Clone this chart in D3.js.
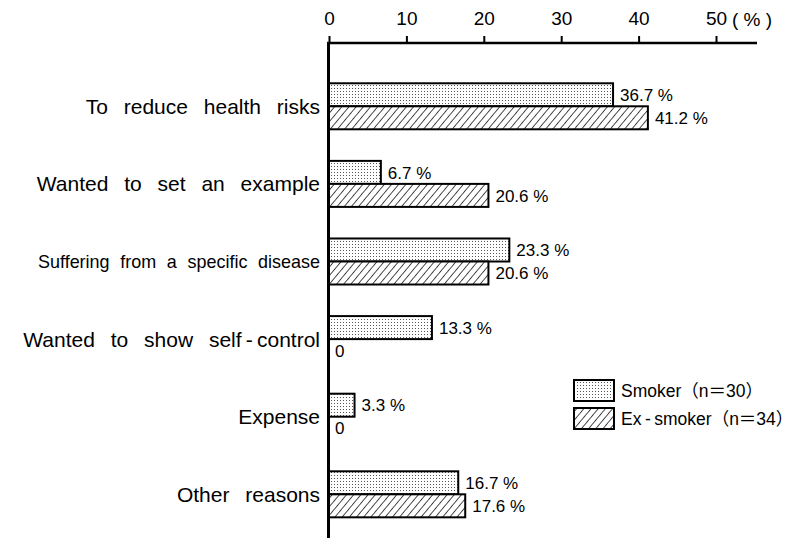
<!DOCTYPE html>
<html><head><meta charset="utf-8">
<script src="https://cdn.jsdelivr.net/npm/d3@7"></script>
<style>
html,body{margin:0;padding:0;background:#fff;}
svg{display:block;}
text{font-family:"Liberation Sans","Noto Sans CJK JP",Arial,sans-serif;fill:#000;}
</style></head>
<body>
<svg id="chart" width="794" height="538"></svg>
<script>
const categories = ["To reduce health risks","Wanted to set an example","Suffering from a specific disease","Wanted to show self\u2009-\u2009control","Expense","Other reasons"];
const smokerValues = [36.7, 6.7, 23.3, 13.3, 3.3, 16.7];
const exSmokerValues = [41.2, 20.6, 20.6, 0, 0, 17.6];
const seriesNames = ["Smoker（n＝30）","Ex\u2009-\u2009smoker（n＝34）"];
const tickValues = [0,10,20,30,40,50];
const unitLabel = "( % )";

const svg = d3.select("#chart");
const defs = svg.append("defs");

const dots = defs.append("pattern").attr("id","dots").attr("patternUnits","userSpaceOnUse")
  .attr("width",3).attr("height",3);
dots.append("rect").attr("width",3).attr("height",3).attr("fill","#fff");
dots.append("rect").attr("x",1).attr("y",1).attr("width",1).attr("height",1).attr("fill","#555");

const hatch = defs.append("pattern").attr("id","hatch").attr("patternUnits","userSpaceOnUse")
  .attr("width",5.5).attr("height",5.5).attr("patternTransform","rotate(40)");
hatch.append("rect").attr("width",5.5).attr("height",5.5).attr("fill","#fff");
hatch.append("line").attr("x1",0).attr("y1",0).attr("x2",0).attr("y2",5.5).attr("stroke","#000").attr("stroke-width",1.4);

const fills = ["url(#dots)","url(#hatch)"];

const x = d3.scaleLinear().domain([0,50]).range([329,716]);
const axisY = 43;
const y = d3.scaleBand().domain(categories).range([60, 540.6]).paddingInner(0.407).paddingOuter(0.3);
const ySub = d3.scaleBand().domain([0,1]).range([0, y.bandwidth()]);

// top axis
const axis = d3.axisTop(x).tickValues(tickValues).tickSize(7).tickSizeOuter(0).tickPadding(11);
const gAxis = svg.append("g").attr("transform",`translate(0,${axisY})`).call(axis);
gAxis.select(".domain").remove();
gAxis.selectAll(".tick line").attr("stroke","#000").attr("stroke-width",2);
gAxis.selectAll(".tick text").attr("font-size",19).attr("font-family",'"Liberation Sans",Arial,sans-serif');
gAxis.append("line").attr("x1",x(0)-2).attr("x2",757).attr("y1",0).attr("y2",0)
  .attr("stroke","#000").attr("stroke-width",2.5);
gAxis.append("text").attr("x",x(50)+16).attr("y",-24).attr("dy","0.35em")
  .attr("font-size",19).attr("text-anchor","start").attr("font-family",'"Liberation Sans",Arial,sans-serif').text(unitLabel);

// bars
const series = [smokerValues, exSmokerValues];
const gBars = svg.append("g");
series.forEach((vals, si) => {
  categories.forEach((c, i) => {
    const v = vals[i];
    const by = y(c) + ySub(si);
    if (v > 0) {
      gBars.append("rect").attr("x",x(0)).attr("y",by)
        .attr("width",x(v)-x(0)).attr("height",ySub.bandwidth())
        .attr("fill",fills[si]).attr("stroke","#000").attr("stroke-width",2);
    }
    gBars.append("text").attr("x",x(v)+(v>0?7:6)).attr("y",by+ySub.bandwidth()/2).attr("dy","0.36em")
      .attr("font-size",17).text(v>0 ? v.toFixed(1)+" %" : "0");
  });
});

// vertical axis line
svg.append("line").attr("x1",x(0)-0.5).attr("x2",x(0)-0.5).attr("y1",axisY).attr("y2",538)
  .attr("stroke","#000").attr("stroke-width",3);

// category labels
const gLab = svg.append("g");
categories.forEach((c,i) => {
  const small = c.startsWith("Suffering");
  const t = gLab.append("text").attr("x",320).attr("y",y(c)+y.bandwidth()/2).attr("dy","0.36em")
    .attr("text-anchor","end")
    .attr("font-size", small ? 19 : 21)
    .attr("word-spacing", small ? 6 : 10)
    .text(c);
  if (small) t.attr("textLength",282).attr("lengthAdjust","spacingAndGlyphs");
});

// legend
const lg = svg.append("g");
seriesNames.forEach((n,i) => {
  const ly = 380 + i*28;
  lg.append("rect").attr("x",574).attr("y",ly).attr("width",40).attr("height",21)
    .attr("fill",fills[i]).attr("stroke","#000").attr("stroke-width",2);
  lg.append("text").attr("x",621).attr("y",ly+10.5).attr("dy","0.36em").attr("font-size",17.5).text(n);
});
</script>
</body></html>
